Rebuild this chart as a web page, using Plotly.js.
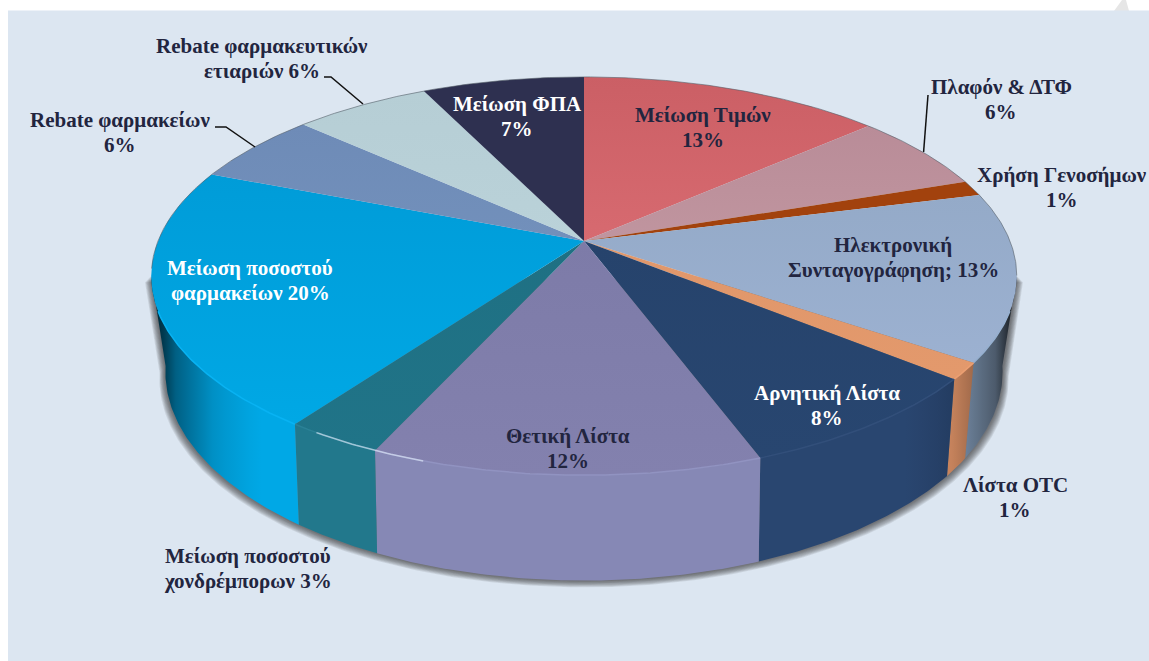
<!DOCTYPE html>
<html>
<head>
<meta charset="utf-8">
<script src="https://cdn.plot.ly/plotly-3.0.1.min.js"></script>
<style>html,body{margin:0;padding:0;background:#fff}#chart{width:1149px;height:661px}</style>
</head>
<body>
<div id="chart"></div>
<script>
const categories = ['Μείωση Τιμών','Πλαφόν & ΔΤΦ','Χρήση Γενοσήμων','Ηλεκτρονική Συνταγογράφηση','Λίστα OTC','Αρνητική Λίστα','Θετική Λίστα','Μείωση ποσοστού χονδρέμπορων','Μείωση ποσοστού φαρμακείων','Rebate φαρμακείων','Rebate φαρμακευτικών εταιριών','Μείωση ΦΠΑ'];
const values = [12.9,6.1,1.2,13.1,1.3,8.1,11.9,3.0,20.3,5.6,5.8,6.9];
const labelLine1 = ['Μείωση Τιμών','Πλαφόν & ΔΤΦ','Χρήση Γενοσήμων','Ηλεκτρονική','Λίστα OTC','Αρνητική Λίστα','Θετική Λίστα','Μείωση ποσοστού','Μείωση ποσοστού','Rebate φαρμακείων','Rebate φαρμακευτικών','Μείωση ΦΠΑ'];
const labelLine2 = ['13%','6%','1%','Συνταγογράφηση; 13%','1%','8%','12%','χονδρέμπορων 3%','φαρμακείων 20%','6%','ετιαριών 6%','7%'];
const labelX = [703,1001,1062,893,1015,827,568,248,250,120,262,517];
const labelY = [127,99,187,257,497,405,448,568,280,132,58,116];
const labelColors = ['#22253f','#22253f','#22253f','#22253f','#22253f','#fff','#22253f','#22253f','#fff','#22253f','#22253f','#fff'];
const topColors = ['#cb5f65','#b98c98','#a2420d','#94aac8','#e0976b','#26436c','#7d7ba8','#1f7083','#009cd8','#6e8bb7','#b6ced5','#2e3050'];
const topColorsLow = ['#d76a70','#c0959f','#a2420d','#9cb1d1','#e3996c','#284670','#8381ae','#207488','#00a8e5','#7290bb','#bad2d9','#2e3050'];
const wallColors = ['#d0666a','#bb8e99','#a2420d','#8ba5c4','#e09468','#294670','#8688b5','#22788c','#00a8e6','#6f8cb8','#b7cfd6','#2e3050'];

const cx=584, cy=241, A=426, B=193, k=0.176;
const cyLow=330, ALow=410, BLow=200, kLow=0.2018;
const wallFrom=100, wallTo=260;
const sum = values.reduce((a,b)=>a+b,0);
const rad = d=>d*Math.PI/180;
function topPt(t){const x=Math.sin(rad(t)),y=-Math.cos(rad(t)),w=1-k*y;return [cx+A*x/w,cy+B*y/w];}
function lowPt(t){const x=Math.sin(rad(t)),y=-Math.cos(rad(t)),w=1-kLow*y;return [cx+ALow*x/w,cyLow+BLow*y/w];}
function range(a,b){const n=Math.max(2,Math.ceil(Math.abs(b-a)/0.5));const r=[];for(let i=0;i<=n;i++)r.push(a+(b-a)*i/n);return r;}
function hex(c){return [1,3,5].map(i=>parseInt(c.substr(i,2),16));}
function rgb(c,f,add){return 'rgb('+hex(c).map(v=>Math.min(255,Math.round(v*f+(add||0)))).join(',')+')';}
function shade(x){
  const t=Math.abs(x-cx)/433, p=[[0,1],[.75,1],[.85,.88],[.95,.55],[.985,.22],[1.05,.1]];
  for(let i=1;i<p.length;i++) if(t<=p[i][0]) return p[i-1][1]+(p[i][1]-p[i-1][1])*(t-p[i-1][0])/(p[i][0]-p[i-1][0]);
  return .1;
}
const edges=[0]; values.forEach(v=>edges.push(edges[edges.length-1]+360*v/sum));

const traces=[];
// soft shadow under the wall
for(let d=9;d>=1;d--){
  const pts=[topPt(wallFrom)].concat(range(wallFrom,wallTo).map(lowPt),[topPt(wallTo)]);
  const xs=pts.map(p=>cx+(p[0]-cx)*(1+d*0.0016)), ys=pts.map(p=>p[1]+d*0.75);
  traces.push({x:xs,y:ys,mode:'lines',fill:'toself',fillcolor:'rgba(50,50,50,0.10)',line:{width:0},hoverinfo:'skip',showlegend:false});
}
// side walls
const wallIdx=values.map((v,i)=>i).filter(i=>edges[i+1]>wallFrom&&edges[i]<wallTo);
wallIdx.forEach(i=>{
  const a=Math.max(edges[i],wallFrom), b=Math.min(edges[i+1],wallTo);
  const th=range(a,b), xs=[],ys=[];
  th.forEach(t=>{const p=topPt(t);xs.push(p[0]);ys.push(p[1]);});
  th.slice().reverse().forEach(t=>{const p=lowPt(t);xs.push(p[0]);ys.push(p[1]);});
  xs.push(xs[0]);ys.push(ys[0]);
  const x0=Math.min(...xs),x1=Math.max(...xs),scale=[];
  for(let j=0;j<=12;j++){scale.push([j/12,rgb(wallColors[i],shade(x0+(x1-x0)*j/12))]);}
  traces.push({x:xs,y:ys,mode:'lines',fill:'toself',line:{width:0},fillgradient:{type:'horizontal',start:x0,stop:x1,colorscale:scale},hoverinfo:'skip',showlegend:false,name:categories[i]+' side'});
});
// top faces
values.forEach((v,i)=>{
  const th=range(edges[i],edges[i+1]),xs=[cx],ys=[cy];
  th.forEach(t=>{const p=topPt(t);xs.push(p[0]);ys.push(p[1]);});
  xs.push(cx);ys.push(cy);
  traces.push({x:xs,y:ys,mode:'lines',fill:'toself',line:{width:0},name:categories[i],
    fillgradient:{type:'vertical',start:Math.min(...ys),stop:Math.max(...ys),colorscale:[[0,topColors[i]],[1,topColorsLow[i]]]},
    hoverinfo:'name',showlegend:false});
});
// rim: thin dark outline at the back, lighter bevel at the front
const back=range(262,360+100);
traces.push({x:back.map(t=>topPt(t)[0]),y:back.map(t=>topPt(t)[1]),mode:'lines',line:{width:1,color:'rgba(85,95,105,0.6)'},hoverinfo:'skip',showlegend:false});
wallIdx.forEach(i=>{
  const a=Math.max(edges[i],110), b=Math.min(edges[i+1],250);
  if(b<=a) return;
  const th=range(a,b);
  traces.push({x:th.map(t=>topPt(t)[0]),y:th.map(t=>topPt(t)[1]),mode:'lines',line:{width:1.5,color:rgb(wallColors[i],1.02,8)},hoverinfo:'skip',showlegend:false});
});
const glint=range(edges[7]-6,edges[7]+8);
traces.push({x:glint.map(t=>topPt(t)[0]),y:glint.map(t=>topPt(t)[1]),mode:'lines',line:{width:1.5,color:'rgba(225,235,250,0.65)'},hoverinfo:'skip',showlegend:false});

const labelFont=i=>({family:'"Liberation Serif","Times New Roman",serif',size:21,color:labelColors[i],weight:'bold'});
const annotations=[];
labelLine1.forEach((s,i)=>{
  annotations.push({text:s,x:labelX[i],y:labelY[i]-12.5,xref:'x',yref:'y',showarrow:false,xanchor:'center',yanchor:'middle',font:labelFont(i)});
  annotations.push({text:labelLine2[i],x:labelX[i],y:labelY[i]+12.5,xref:'x',yref:'y',showarrow:false,xanchor:'center',yanchor:'middle',font:labelFont(i)});
});

const layout={
  width:1149,height:661,margin:{l:0,r:0,t:0,b:0},paper_bgcolor:'#ffffff',plot_bgcolor:'rgba(0,0,0,0)',showlegend:false,
  xaxis:{range:[0,1149],visible:false,fixedrange:true},
  yaxis:{range:[661,0],visible:false,fixedrange:true},
  annotations,
  shapes:[
    {type:'path',layer:'below',path:'M1114,11 L1122,0 L1126,0 L1129,11 Z',fillcolor:'#e6e6e6',line:{width:0}},
    {type:'rect',layer:'below',x0:8,x1:1149,y0:10.5,y1:661,fillcolor:'#dce6f1',line:{width:0}},
    {type:'path',path:'M215,127 L226,127 L255,147',line:{color:'#111',width:1.5}},
    {type:'path',path:'M324,77 L331,77 L363,104',line:{color:'#111',width:1.5}},
    {type:'path',path:'M928,95 L923.6,152',line:{color:'#111',width:1.5}}
  ]
};
Plotly.newPlot('chart',traces,layout,{displayModeBar:false,staticPlot:true});
</script>
</body>
</html>
